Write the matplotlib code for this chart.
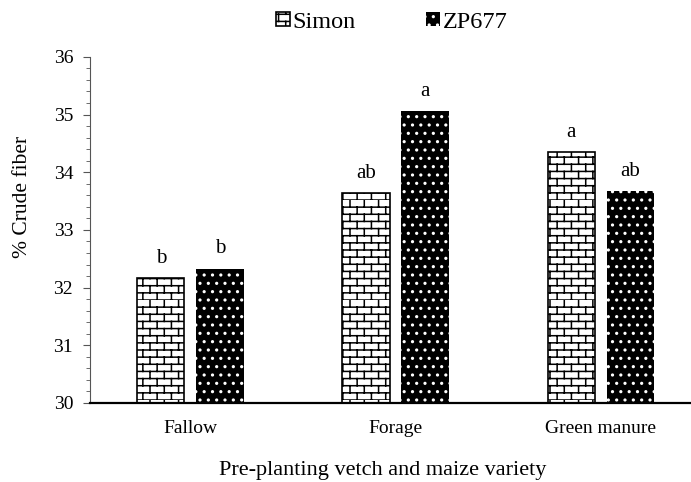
import warnings
import numpy as np
import matplotlib
matplotlib.use("Agg")
import matplotlib.pyplot as plt
import matplotlib.hatch as mhatch
from matplotlib.path import Path

warnings.filterwarnings("ignore")

categories = ["Fallow", "Forage", "Green manure"]
simon = [32.17, 33.64, 34.35]
zp677 = [32.33, 35.06, 33.67]
simon_letters = ["b", "ab", "a"]
zp677_letters = ["b", "a", "ab"]


# brick hatch, picked with the letter 'B'
class BrickHatch(mhatch.HatchPatternBase):
    rows = 14
    cols = 7

    def __init__(self, hatch, density):
        self.on = hatch.count('B') > 0
        n = self.rows
        self.num_vertices = (n * 2 + n * self.cols * 2) if self.on else 0

    def set_vertices_and_codes(self, vertices, codes):
        n, m = self.rows, self.cols
        k = 0
        for i in range(n):
            y = i / n
            vertices[k] = [0.0, y]
            vertices[k + 1] = [1.0, y]
            codes[k] = Path.MOVETO
            codes[k + 1] = Path.LINETO
            k += 2
            off = 0.5 * (i % 2)
            for j in range(m):
                x = (j + off) / m
                vertices[k] = [x, y]
                vertices[k + 1] = [x, y + 1.0 / n]
                codes[k] = Path.MOVETO
                codes[k + 1] = Path.LINETO
                k += 2


mhatch._hatch_types.append(BrickHatch)

plt.rcParams['font.family'] = ['Liberation Serif', 'DejaVu Serif']
plt.rcParams['hatch.linewidth'] = 1.1

fig = plt.figure(figsize=(6.91, 4.82), dpi=100)
ax = fig.add_axes([0.130, 0.164, 0.870, 0.718])

x = np.arange(len(categories))
w = 0.23
off = 0.144

b1 = ax.bar(x - off, simon, w, color='white', edgecolor='black',
            linewidth=1.2, hatch='B', label='Simon')
b2 = ax.bar(x + off, zp677, w, color='black', edgecolor='white',
            linewidth=0, hatch='..', label='ZP677')

for xi, v, t in zip(x - off, simon, simon_letters):
    ax.annotate(t, (xi, v), xytext=(0, 11), textcoords='offset points',
                ha='center', va='baseline', fontsize=15)
for xi, v, t in zip(x + off, zp677, zp677_letters):
    ax.annotate(t, (xi, v), xytext=(0, 11), textcoords='offset points',
                ha='center', va='baseline', fontsize=15)

ax.set_ylim(30, 36)
ax.set_xlim(-0.49, 2.44)
ax.set_yticks(np.arange(30, 37, 1))
ax.set_yticks(np.arange(30, 36.01, 0.2), minor=True)
ax.tick_params(axis='y', which='major', length=5, labelsize=14, pad=7,
               color='#555555')
ax.tick_params(axis='y', which='minor', length=3, color='#555555')
ax.set_xticks(x)
ax.set_xticklabels(categories, fontsize=14)
ax.tick_params(axis='x', length=0, pad=12)

ax.spines['top'].set_visible(False)
ax.spines['right'].set_visible(False)
ax.spines['left'].set_color('#555555')
ax.spines['bottom'].set_linewidth(1.6)

fig.text(23 / 691, 1 - 197 / 482, '% Crude fiber', rotation=90,
         ha='center', va='center', fontsize=15.5)
fig.text(383 / 691, 1 - 470 / 482, 'Pre-planting vetch and maize variety',
         ha='center', va='center', fontsize=16)

fig.legend(handles=[b1, b2], loc='center', bbox_to_anchor=(392 / 691, 1 - 22 / 482),
           ncol=2, frameon=False, fontsize=17.5, handlelength=0.55,
           handleheight=0.55, handletextpad=0.12, columnspacing=2.9)

fig.savefig('out.png', dpi=100)
